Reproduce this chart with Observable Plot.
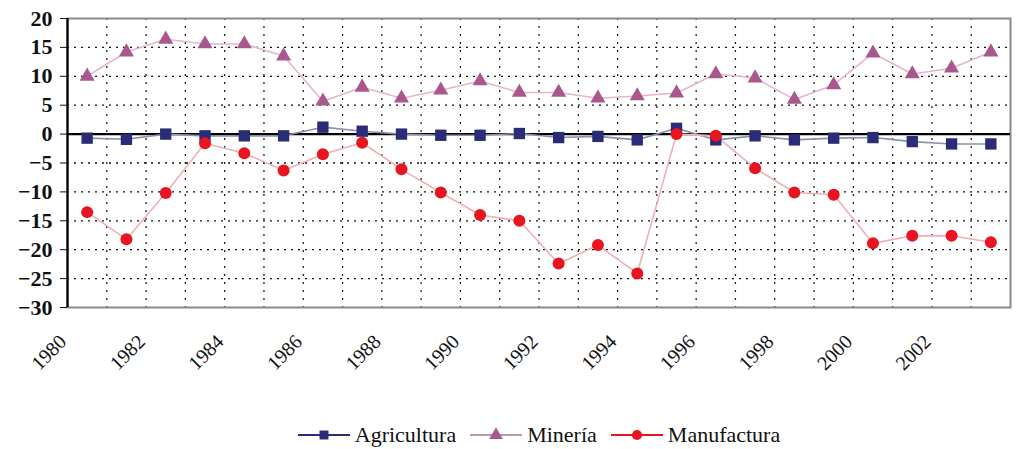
<!DOCTYPE html>
<html>
<head>
<meta charset="utf-8">
<script src="https://cdn.jsdelivr.net/npm/d3@7"></script>
<script src="https://cdn.jsdelivr.net/npm/@observablehq/plot@0.6"></script>
</head>
<body style="margin:0;background:#fff;width:1018px;height:449px;overflow:hidden;font-family:'Liberation Serif'">
<div id="chart"></div>
<div id="legend" style="display:flex;justify-content:center;align-items:center;gap:14px;font-family:'Liberation Serif';font-size:22px;color:#111;height:29px;margin-left:60px"></div>
<script>
const years = [1980,1981,1982,1983,1984,1985,1986,1987,1988,1989,1990,1991,1992,1993,1994,1995,1996,1997,1998,1999,2000,2001,2002,2003];
const agricultura = [-0.7,-0.9,0.0,-0.3,-0.3,-0.3,1.2,0.5,0.0,-0.2,-0.2,0.1,-0.6,-0.4,-1.0,1.0,-1.0,-0.3,-1.0,-0.7,-0.6,-1.3,-1.7,-1.7];
const mineria = [10.0,14.2,16.4,15.6,15.6,13.5,5.7,8.1,6.2,7.6,9.2,7.2,7.2,6.2,6.6,7.1,10.4,9.7,6.0,8.5,14.0,10.4,11.4,14.2];
const manufactura = [-13.5,-18.2,-10.2,-1.6,-3.3,-6.3,-3.5,-1.5,-6.1,-10.1,-14.0,-15.0,-22.4,-19.2,-24.1,0.0,-0.3,-5.9,-10.1,-10.5,-18.9,-17.6,-17.6,-18.7];
const seriesNames = ["Agricultura", "Minería", "Manufactura"];
const yTicks = [20,15,10,5,0,-5,-10,-15,-20,-25,-30];
const xTickYears = [1980,1982,1984,1986,1988,1990,1992,1994,1996,1998,2000,2002];

const styles = {
  "Agricultura": {marker: "#2b2b78", line: "#8c90a8", symbol: "square", r: 6.4},
  "Minería": {marker: "#a8588c", line: "#e6b4cf", symbol: "triangle", r: 5.6},
  "Manufactura": {marker: "#e8141f", line: "#eeb0b4", symbol: "circle", r: 6.0}
};

const rows = [];
[agricultura, mineria, manufactura].forEach((vals, s) =>
  vals.forEach((v, i) => rows.push({series: seriesNames[s], year: years[i], value: v})));

const xDomain = [years[0] - 0.5, years[years.length - 1] + 0.5];
const boundaries = years.slice(0, -1).map(y => y + 0.5);
const gridY = yTicks.filter(v => v !== 0 && v !== yTicks[0] && v !== yTicks[yTicks.length - 1]);
const serif = "Liberation Serif";

const marks = [
  Plot.ruleY(gridY, {stroke: "#111", strokeDasharray: "2,5", strokeWidth: 1.3}),
  Plot.ruleX(boundaries, {stroke: "#111", strokeDasharray: "2,6", strokeWidth: 1.2}),
  Plot.frame({stroke: "#8a8a8a", strokeWidth: 2}),
  Plot.ruleY([0], {stroke: "#000", strokeWidth: 2.2}),
  Plot.ruleX([xDomain[0]], {stroke: "#000", strokeWidth: 2.2})
];
for (const name of seriesNames) {
  const data = rows.filter(d => d.series === name);
  const st = styles[name];
  marks.push(Plot.line(data, {x: "year", y: "value", stroke: st.line, strokeWidth: 1.6}));
}
for (const name of seriesNames) {
  const data = rows.filter(d => d.series === name);
  const st = styles[name];
  marks.push(Plot.dot(data, {x: "year", y: "value", symbol: () => st.symbol, fill: st.marker, r: st.r, stroke: "none"}));
}
marks.push(
  Plot.axisY({ticks: yTicks, tickSize: 7, tickPadding: 8, fontSize: 22, fontWeight: "bold", fontFamily: serif,
    tickFormat: d => d < 0 ? "\u2212" + Math.abs(d) : String(d)}),
  Plot.axisX({ticks: xTickYears, tickSize: 0, tickPadding: 31, dx: -24, tickRotate: -45, fontSize: 20, fontFamily: serif,
    tickFormat: d => String(d)})
);

const chart = Plot.plot({
  width: 1018,
  height: 420,
  marginLeft: 67,
  marginRight: 8,
  marginTop: 18,
  marginBottom: 113,
  style: {fontFamily: serif, color: "#111", background: "#fff"},
  x: {domain: xDomain, label: null},
  y: {domain: [-30, 20], label: null},
  symbol: {type: "identity"},
  marks
});
chart.querySelectorAll("text").forEach(t => t.style.fontFamily = "'Liberation Serif'");
document.getElementById("chart").appendChild(chart);

const legend = document.getElementById("legend");
for (const name of seriesNames) {
  const st = styles[name];
  const item = document.createElement("div");
  item.style.cssText = "display:flex;align-items:center;gap:5px;font-family:'Liberation Serif'";
  const w = 52, h = 16;
  const svg = d3.create("svg").attr("width", w).attr("height", h);
  svg.append("line").attr("x1", 0).attr("x2", w).attr("y1", h / 2).attr("y2", h / 2)
    .attr("stroke", name === "Minería" ? "#b89aa8" : st.marker).attr("stroke-width", 2);
  const sym = {square: d3.symbolSquare, triangle: d3.symbolTriangle, circle: d3.symbolCircle}[st.symbol];
  svg.append("path").attr("d", d3.symbol(sym, 80)()).attr("transform", `translate(${w / 2},${h / 2})`)
    .attr("fill", st.marker);
  item.appendChild(svg.node());
  const label = document.createElement("span");
  label.textContent = name;
  item.appendChild(label);
  legend.appendChild(item);
}
</script>
</body>
</html>
